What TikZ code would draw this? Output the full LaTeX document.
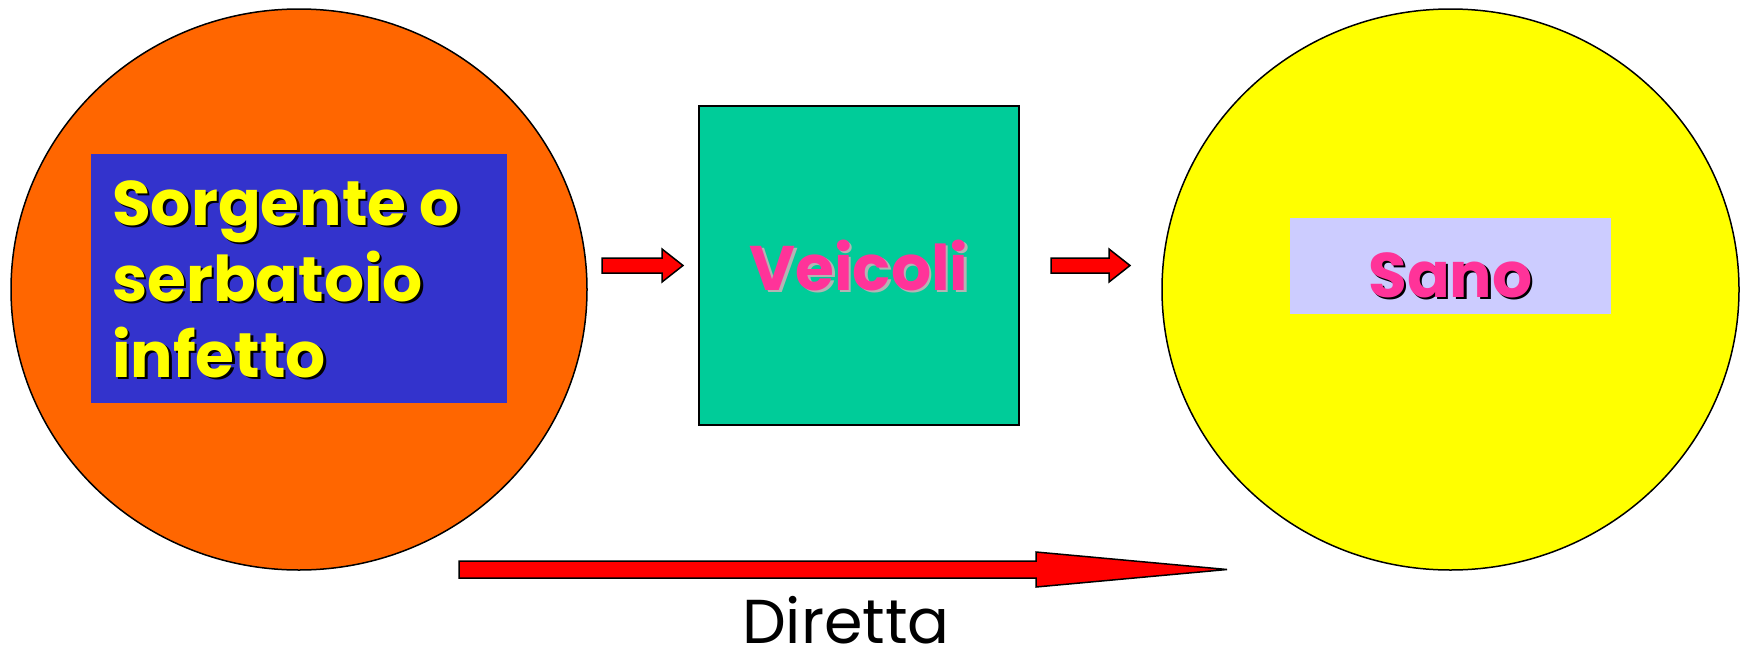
\documentclass[tikz,border=0pt]{standalone}
\usepackage{fontspec}
\setmainfont{Poppins}
\usetikzlibrary{shapes.geometric}
\definecolor{orangeC}{HTML}{FF6600}
\definecolor{blueC}{HTML}{3333CC}
\definecolor{tealC}{HTML}{00CC99}
\definecolor{yellowC}{HTML}{FFFF00}
\definecolor{lavC}{HTML}{CCCCFF}
\definecolor{pinkC}{HTML}{FF3399}
\definecolor{greyC}{HTML}{B4B4B4}
\newcommand\shtext[3]{\rlap{\color{#2}\kern2.5pt\raisebox{-2.5pt}{#3}}{\color{#1}#3}}
\begin{document}
\begin{tikzpicture}[x=1pt,y=-1pt]
\tikzset{
  outline/.style={draw=black, line width=1.5pt, inner sep=0pt},
  panel/.style={draw=none, inner sep=0pt},
  blockarrow/.style={fill=red, draw=black, line width=1.5pt, line join=miter},
  big/.style={font=\fontsize{63}{76}\selectfont\bfseries, inner sep=0pt},
}
\useasboundingbox (0,0) rectangle (1746,664);
% circles and square
\node[ellipse, outline, fill=orangeC, minimum width=576pt, minimum height=561pt] (src) at (299,289.5) {};
\node[ellipse, outline, fill=yellowC, minimum width=577pt, minimum height=561pt] (dst) at (1450.5,289.5) {};
\node[rectangle, outline, fill=tealC, minimum width=320pt, minimum height=319pt] (veh) at (859,265.5) {};
% inner panels
\node[rectangle, panel, fill=blueC, minimum width=416pt, minimum height=249pt] (srcpanel) at (299,278.5) {};
\node[rectangle, panel, fill=lavC, minimum width=321pt, minimum height=96pt] (dstpanel) at (1450.5,265.5) {};
% texts
\node[big, anchor=base west] (s1) at (112,225) {\shtext{yellowC}{black}{Sorgente o}};
\node[big, anchor=base west] (s2) at (112,301) {\shtext{yellowC}{black}{serbatoio}};
\node[big, anchor=base west] (s3) at (112,377) {\shtext{yellowC}{black}{infetto}};
\node[big, anchor=base] (vt) at (859,290) {\shtext{pinkC}{greyC}{Veicoli}};
\node[big, anchor=base] (dt) at (1450.5,297) {\shtext{pinkC}{black}{Sano}};
\node[font=\fontsize{62}{76}\selectfont, inner sep=0pt, anchor=base] (dir) at (846,643) {Diretta};
% small arrows
\draw[blockarrow] (602,258) -- (662,258) -- (662,249) -- (683,265.5) -- (662,282) -- (662,273) -- (602,273) -- cycle;
\draw[blockarrow] (1051,258) -- (1109,258) -- (1109,249) -- (1130,265.5) -- (1109,282) -- (1109,273) -- (1051,273) -- cycle;
% big arrow
\draw[blockarrow] (459,561) -- (1036,561) -- (1036,552) -- (1227,569.5) -- (1036,587) -- (1036,578) -- (459,578) -- cycle;
\end{tikzpicture}
\end{document}
